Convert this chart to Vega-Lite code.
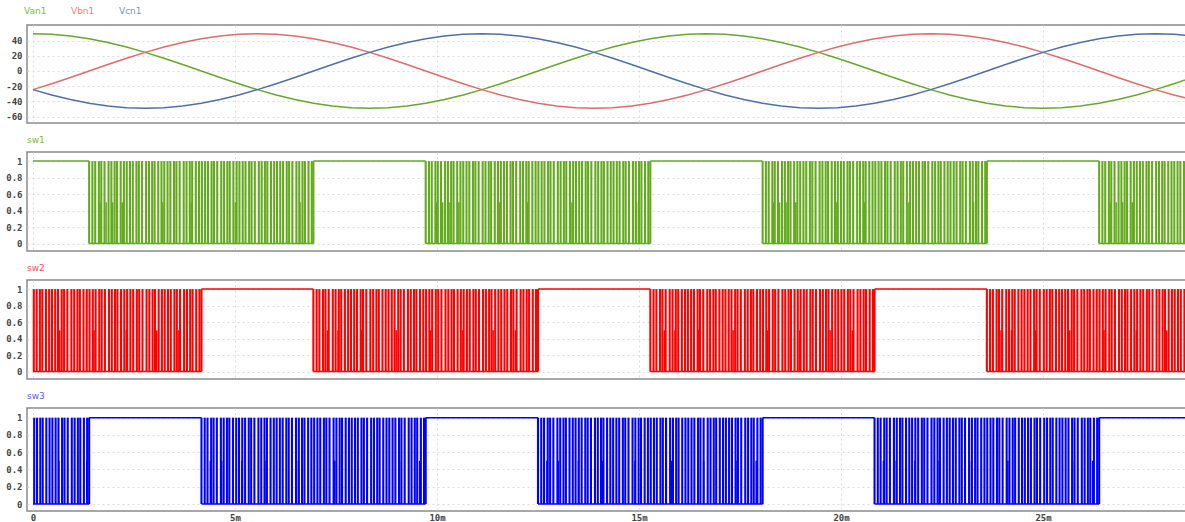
{
"$schema":"https://vega.github.io/schema/vega-lite/v6.json",
"padding":{"left":4,"top":6,"right":0,"bottom":0},
"background":"white",
"spacing":11,
"config":{
"view":{"stroke":"#8a8a8a","strokeWidth":1.5},
"axis":{"gridColor":"#dcdcdc","gridDash":[2,3],"gridWidth":1,"domain":false,"ticks":false,"labelFont":"DejaVu Sans Mono","labelFontSize":9,"labelFontWeight":"bold","labelColor":"#444","labelPadding":5,"labelOverlap":false,"labelBound":false},
"title":{"anchor":"start","frame":"group","font":"DejaVu Sans","fontSize":9,"fontWeight":"normal","offset":7}
},
"datasets":{
"sine":[
{"t":0,"Van1":49,"Vbn1":-24.5,"Vcn1":-24.5},{"t":0.463,"Van1":48.26,"Vbn1":-16.76,"Vcn1":-31.5},{"t":0.926,"Van1":46.04,"Vbn1":-8.51,"Vcn1":-37.54},{"t":1.389,"Van1":42.44,"Vbn1":0,"Vcn1":-42.44},{"t":1.852,"Van1":37.54,"Vbn1":8.51,"Vcn1":-46.04},{"t":2.315,"Van1":31.5,"Vbn1":16.76,"Vcn1":-48.26},{"t":2.778,"Van1":24.5,"Vbn1":24.5,"Vcn1":-49},{"t":3.241,"Van1":16.76,"Vbn1":31.5,"Vcn1":-48.26},{"t":3.704,"Van1":8.51,"Vbn1":37.54,"Vcn1":-46.04},{"t":4.167,"Van1":0,"Vbn1":42.44,"Vcn1":-42.44},{"t":4.63,"Van1":-8.51,"Vbn1":46.04,"Vcn1":-37.54},{"t":5.093,"Van1":-16.76,"Vbn1":48.26,"Vcn1":-31.5},{"t":5.556,"Van1":-24.5,"Vbn1":49,"Vcn1":-24.5},{"t":6.019,"Van1":-31.5,"Vbn1":48.26,"Vcn1":-16.76},{"t":6.481,"Van1":-37.54,"Vbn1":46.04,"Vcn1":-8.51},{"t":6.944,"Van1":-42.44,"Vbn1":42.44,"Vcn1":0},{"t":7.407,"Van1":-46.04,"Vbn1":37.54,"Vcn1":8.51},{"t":7.87,"Van1":-48.26,"Vbn1":31.5,"Vcn1":16.76},{"t":8.333,"Van1":-49,"Vbn1":24.5,"Vcn1":24.5},{"t":8.796,"Van1":-48.26,"Vbn1":16.76,"Vcn1":31.5},{"t":9.259,"Van1":-46.04,"Vbn1":8.51,"Vcn1":37.54},{"t":9.722,"Van1":-42.44,"Vbn1":0,"Vcn1":42.44},{"t":10.185,"Van1":-37.54,"Vbn1":-8.51,"Vcn1":46.04},{"t":10.648,"Van1":-31.5,"Vbn1":-16.76,"Vcn1":48.26},{"t":11.111,"Van1":-24.5,"Vbn1":-24.5,"Vcn1":49},{"t":11.574,"Van1":-16.76,"Vbn1":-31.5,"Vcn1":48.26},{"t":12.037,"Van1":-8.51,"Vbn1":-37.54,"Vcn1":46.04},{"t":12.5,"Van1":0,"Vbn1":-42.44,"Vcn1":42.44},{"t":12.963,"Van1":8.51,"Vbn1":-46.04,"Vcn1":37.54},{"t":13.426,"Van1":16.76,"Vbn1":-48.26,"Vcn1":31.5},{"t":13.889,"Van1":24.5,"Vbn1":-49,"Vcn1":24.5},{"t":14.352,"Van1":31.5,"Vbn1":-48.26,"Vcn1":16.76},{"t":14.815,"Van1":37.54,"Vbn1":-46.04,"Vcn1":8.51},{"t":15.278,"Van1":42.44,"Vbn1":-42.44,"Vcn1":0},{"t":15.741,"Van1":46.04,"Vbn1":-37.54,"Vcn1":-8.51},{"t":16.204,"Van1":48.26,"Vbn1":-31.5,"Vcn1":-16.76},
{"t":16.667,"Van1":49,"Vbn1":-24.5,"Vcn1":-24.5},{"t":17.13,"Van1":48.26,"Vbn1":-16.76,"Vcn1":-31.5},{"t":17.593,"Van1":46.04,"Vbn1":-8.51,"Vcn1":-37.54},{"t":18.056,"Van1":42.44,"Vbn1":0,"Vcn1":-42.44},{"t":18.519,"Van1":37.54,"Vbn1":8.51,"Vcn1":-46.04},{"t":18.981,"Van1":31.5,"Vbn1":16.76,"Vcn1":-48.26},{"t":19.444,"Van1":24.5,"Vbn1":24.5,"Vcn1":-49},{"t":19.907,"Van1":16.76,"Vbn1":31.5,"Vcn1":-48.26},{"t":20.37,"Van1":8.51,"Vbn1":37.54,"Vcn1":-46.04},{"t":20.833,"Van1":0,"Vbn1":42.44,"Vcn1":-42.44},{"t":21.296,"Van1":-8.51,"Vbn1":46.04,"Vcn1":-37.54},{"t":21.759,"Van1":-16.76,"Vbn1":48.26,"Vcn1":-31.5},{"t":22.222,"Van1":-24.5,"Vbn1":49,"Vcn1":-24.5},{"t":22.685,"Van1":-31.5,"Vbn1":48.26,"Vcn1":-16.76},{"t":23.148,"Van1":-37.54,"Vbn1":46.04,"Vcn1":-8.51},{"t":23.611,"Van1":-42.44,"Vbn1":42.44,"Vcn1":0},{"t":24.074,"Van1":-46.04,"Vbn1":37.54,"Vcn1":8.51},{"t":24.537,"Van1":-48.26,"Vbn1":31.5,"Vcn1":16.76},{"t":25,"Van1":-49,"Vbn1":24.5,"Vcn1":24.5},{"t":25.463,"Van1":-48.26,"Vbn1":16.76,"Vcn1":31.5},{"t":25.926,"Van1":-46.04,"Vbn1":8.51,"Vcn1":37.54},{"t":26.389,"Van1":-42.44,"Vbn1":0,"Vcn1":42.44},{"t":26.852,"Van1":-37.54,"Vbn1":-8.51,"Vcn1":46.04},{"t":27.315,"Van1":-31.5,"Vbn1":-16.76,"Vcn1":48.26},{"t":27.778,"Van1":-24.5,"Vbn1":-24.5,"Vcn1":49},{"t":28.241,"Van1":-16.76,"Vbn1":-31.5,"Vcn1":48.26},{"t":28.704,"Van1":-8.51,"Vbn1":-37.54,"Vcn1":46.04}
],
"seg":[
{"s":"sw1","t0":0,"t1":1.39,"v":1},{"s":"sw1","t0":1.39,"t1":6.94,"v":0},{"s":"sw1","t0":6.94,"t1":9.72,"v":1},{"s":"sw1","t0":9.72,"t1":15.28,"v":0},{"s":"sw1","t0":15.28,"t1":18.06,"v":1},{"s":"sw1","t0":18.06,"t1":23.61,"v":0},{"s":"sw1","t0":23.61,"t1":26.39,"v":1},{"s":"sw1","t0":26.39,"t1":28.56,"v":0},
{"s":"sw2","t0":0,"t1":4.17,"v":0},{"s":"sw2","t0":4.17,"t1":6.94,"v":1},{"s":"sw2","t0":6.94,"t1":12.5,"v":0},{"s":"sw2","t0":12.5,"t1":15.28,"v":1},{"s":"sw2","t0":15.28,"t1":20.83,"v":0},{"s":"sw2","t0":20.83,"t1":23.61,"v":1},{"s":"sw2","t0":23.61,"t1":28.56,"v":0},
{"s":"sw3","t0":0,"t1":1.39,"v":0},{"s":"sw3","t0":1.39,"t1":4.17,"v":1},{"s":"sw3","t0":4.17,"t1":9.72,"v":0},{"s":"sw3","t0":9.72,"t1":12.5,"v":1},{"s":"sw3","t0":12.5,"t1":18.06,"v":0},{"s":"sw3","t0":18.06,"t1":20.83,"v":1},{"s":"sw3","t0":20.83,"t1":26.39,"v":0},{"s":"sw3","t0":26.39,"t1":28.56,"v":1}
],
"p1":[
{"t":1.39},{"t":1.47},{"t":1.54},{"t":1.63},{"t":1.69},{"t":1.77},{"t":1.87},{"t":1.94},{"t":2.02},{"t":2.08},{"t":2.17},{"t":2.25},{"t":2.32},{"t":2.4},{"t":2.47},{"t":2.56},{"t":2.62},{"t":2.7},{"t":2.8},{"t":2.87},{"t":2.95},{"t":3.01},{"t":3.1},{"t":3.18},{"t":3.25},{"t":3.33},{"t":3.4},{"t":3.49},{"t":3.55},{"t":3.63},{"t":3.73},{"t":3.8},{"t":3.88},{"t":3.94},{"t":4.03},{"t":4.11},{"t":4.18},{"t":4.26},{"t":4.33},{"t":4.42},{"t":4.48},{"t":4.56},{"t":4.66},{"t":4.73},{"t":4.81},{"t":4.87},{"t":4.96},{"t":5.04},{"t":5.11},{"t":5.19},{"t":5.26},{"t":5.35},{"t":5.41},{"t":5.49},{"t":5.59},{"t":5.66},{"t":5.74},{"t":5.8},{"t":5.89},{"t":5.97},{"t":6.04},{"t":6.12},{"t":6.19},{"t":6.28},{"t":6.34},{"t":6.42},{"t":6.52},{"t":6.59},{"t":6.67},{"t":6.73},{"t":6.82},{"t":6.9},{"t":6.94},
{"t":9.72},{"t":9.8},{"t":9.87},{"t":9.96},{"t":10.02},{"t":10.1},{"t":10.2},{"t":10.27},{"t":10.35},{"t":10.41},{"t":10.5},{"t":10.58},{"t":10.65},{"t":10.73},{"t":10.8},{"t":10.89},{"t":10.95},{"t":11.03},{"t":11.13},{"t":11.2},{"t":11.28},{"t":11.34},{"t":11.43},{"t":11.51},{"t":11.58},{"t":11.66},{"t":11.73},{"t":11.82},{"t":11.88},{"t":11.96},{"t":12.06},{"t":12.13},{"t":12.21},{"t":12.27},{"t":12.36},{"t":12.44},{"t":12.51},{"t":12.59},{"t":12.66},{"t":12.75},{"t":12.81},{"t":12.89},{"t":12.99},{"t":13.06},{"t":13.14},{"t":13.2},{"t":13.29},{"t":13.37},{"t":13.44},{"t":13.52},{"t":13.59},{"t":13.68},{"t":13.74},{"t":13.82},{"t":13.92},{"t":13.99},{"t":14.07},{"t":14.13},{"t":14.22},{"t":14.3},{"t":14.37},{"t":14.45},{"t":14.52},{"t":14.61},{"t":14.67},{"t":14.75},{"t":14.85},{"t":14.92},{"t":15},{"t":15.06},{"t":15.15},{"t":15.23},{"t":15.28},
{"t":18.06},{"t":18.14},{"t":18.21},{"t":18.3},{"t":18.36},{"t":18.44},{"t":18.54},{"t":18.61},{"t":18.69},{"t":18.75},{"t":18.84},{"t":18.92},{"t":18.99},{"t":19.07},{"t":19.14},{"t":19.23},{"t":19.29},{"t":19.37},{"t":19.47},{"t":19.54},{"t":19.62},{"t":19.68},{"t":19.77},{"t":19.85},{"t":19.92},{"t":20},{"t":20.07},{"t":20.16},{"t":20.22},{"t":20.3},{"t":20.4},{"t":20.47},{"t":20.55},{"t":20.61},{"t":20.7},{"t":20.78},{"t":20.85},{"t":20.93},{"t":21},{"t":21.09},{"t":21.15},{"t":21.23},{"t":21.33},{"t":21.4},{"t":21.48},{"t":21.54},{"t":21.63},{"t":21.71},{"t":21.78},{"t":21.86},{"t":21.93},{"t":22.02},{"t":22.08},{"t":22.16},{"t":22.26},{"t":22.33},{"t":22.41},{"t":22.47},{"t":22.56},{"t":22.64},{"t":22.71},{"t":22.79},{"t":22.86},{"t":22.95},{"t":23.01},{"t":23.09},{"t":23.19},{"t":23.26},{"t":23.34},{"t":23.4},{"t":23.49},{"t":23.57},{"t":23.61},
{"t":26.39},{"t":26.47},{"t":26.54},{"t":26.63},{"t":26.69},{"t":26.77},{"t":26.87},{"t":26.94},{"t":27.02},{"t":27.08},{"t":27.17},{"t":27.25},{"t":27.32},{"t":27.4},{"t":27.47},{"t":27.56},{"t":27.62},{"t":27.7},{"t":27.8},{"t":27.87},{"t":27.95},{"t":28.01},{"t":28.1},{"t":28.18},{"t":28.25},{"t":28.33},{"t":28.4},{"t":28.49},{"t":28.55}
],
"p2":[
{"t":0.02},{"t":0.09},{"t":0.17},{"t":0.23},{"t":0.32},{"t":0.4},{"t":0.47},{"t":0.55},{"t":0.62},{"t":0.71},{"t":0.77},{"t":0.85},{"t":0.95},{"t":1.02},{"t":1.1},{"t":1.16},{"t":1.25},{"t":1.33},{"t":1.4},{"t":1.48},{"t":1.55},{"t":1.64},{"t":1.7},{"t":1.78},{"t":1.88},{"t":1.95},{"t":2.03},{"t":2.09},{"t":2.18},{"t":2.26},{"t":2.33},{"t":2.41},{"t":2.48},{"t":2.57},{"t":2.63},{"t":2.71},{"t":2.81},{"t":2.88},{"t":2.96},{"t":3.02},{"t":3.11},{"t":3.19},{"t":3.26},{"t":3.34},{"t":3.41},{"t":3.5},{"t":3.56},{"t":3.64},{"t":3.74},{"t":3.81},{"t":3.89},{"t":3.95},{"t":4.04},{"t":4.12},{"t":4.17},
{"t":6.94},{"t":7.02},{"t":7.09},{"t":7.18},{"t":7.24},{"t":7.32},{"t":7.42},{"t":7.49},{"t":7.57},{"t":7.63},{"t":7.72},{"t":7.8},{"t":7.87},{"t":7.95},{"t":8.02},{"t":8.11},{"t":8.17},{"t":8.25},{"t":8.35},{"t":8.42},{"t":8.5},{"t":8.56},{"t":8.65},{"t":8.73},{"t":8.8},{"t":8.88},{"t":8.95},{"t":9.04},{"t":9.1},{"t":9.18},{"t":9.28},{"t":9.35},{"t":9.43},{"t":9.49},{"t":9.58},{"t":9.66},{"t":9.73},{"t":9.81},{"t":9.88},{"t":9.97},{"t":10.03},{"t":10.11},{"t":10.21},{"t":10.28},{"t":10.36},{"t":10.42},{"t":10.51},{"t":10.59},{"t":10.66},{"t":10.74},{"t":10.81},{"t":10.9},{"t":10.96},{"t":11.04},{"t":11.14},{"t":11.21},{"t":11.29},{"t":11.35},{"t":11.44},{"t":11.52},{"t":11.59},{"t":11.67},{"t":11.74},{"t":11.83},{"t":11.89},{"t":11.97},{"t":12.07},{"t":12.14},{"t":12.22},{"t":12.28},{"t":12.37},{"t":12.45},{"t":12.5},
{"t":15.28},{"t":15.36},{"t":15.43},{"t":15.52},{"t":15.58},{"t":15.66},{"t":15.76},{"t":15.83},{"t":15.91},{"t":15.97},{"t":16.06},{"t":16.14},{"t":16.21},{"t":16.29},{"t":16.36},{"t":16.45},{"t":16.51},{"t":16.59},{"t":16.69},{"t":16.76},{"t":16.84},{"t":16.9},{"t":16.99},{"t":17.07},{"t":17.14},{"t":17.22},{"t":17.29},{"t":17.38},{"t":17.44},{"t":17.52},{"t":17.62},{"t":17.69},{"t":17.77},{"t":17.83},{"t":17.92},{"t":18},{"t":18.07},{"t":18.15},{"t":18.22},{"t":18.31},{"t":18.37},{"t":18.45},{"t":18.55},{"t":18.62},{"t":18.7},{"t":18.76},{"t":18.85},{"t":18.93},{"t":19},{"t":19.08},{"t":19.15},{"t":19.24},{"t":19.3},{"t":19.38},{"t":19.48},{"t":19.55},{"t":19.63},{"t":19.69},{"t":19.78},{"t":19.86},{"t":19.93},{"t":20.01},{"t":20.08},{"t":20.17},{"t":20.23},{"t":20.31},{"t":20.41},{"t":20.48},{"t":20.56},{"t":20.62},{"t":20.71},{"t":20.79},{"t":20.83},
{"t":23.61},{"t":23.69},{"t":23.76},{"t":23.85},{"t":23.91},{"t":23.99},{"t":24.09},{"t":24.16},{"t":24.24},{"t":24.3},{"t":24.39},{"t":24.47},{"t":24.54},{"t":24.62},{"t":24.69},{"t":24.78},{"t":24.84},{"t":24.92},{"t":25.02},{"t":25.09},{"t":25.17},{"t":25.23},{"t":25.32},{"t":25.4},{"t":25.47},{"t":25.55},{"t":25.62},{"t":25.71},{"t":25.77},{"t":25.85},{"t":25.95},{"t":26.02},{"t":26.1},{"t":26.16},{"t":26.25},{"t":26.33},{"t":26.4},{"t":26.48},{"t":26.55},{"t":26.64},{"t":26.7},{"t":26.78},{"t":26.88},{"t":26.95},{"t":27.03},{"t":27.09},{"t":27.18},{"t":27.26},{"t":27.33},{"t":27.41},{"t":27.48},{"t":27.57},{"t":27.63},{"t":27.71},{"t":27.81},{"t":27.88},{"t":27.96},{"t":28.02},{"t":28.11},{"t":28.19},{"t":28.26},{"t":28.34},{"t":28.41},{"t":28.5},{"t":28.56}
],
"p3":[
{"t":0.03},{"t":0.1},{"t":0.18},{"t":0.24},{"t":0.33},{"t":0.41},{"t":0.48},{"t":0.56},{"t":0.63},{"t":0.72},{"t":0.78},{"t":0.86},{"t":0.96},{"t":1.03},{"t":1.11},{"t":1.17},{"t":1.26},{"t":1.34},{"t":1.39},
{"t":4.17},{"t":4.25},{"t":4.32},{"t":4.41},{"t":4.47},{"t":4.55},{"t":4.65},{"t":4.72},{"t":4.8},{"t":4.86},{"t":4.95},{"t":5.03},{"t":5.1},{"t":5.18},{"t":5.25},{"t":5.34},{"t":5.4},{"t":5.48},{"t":5.58},{"t":5.65},{"t":5.73},{"t":5.79},{"t":5.88},{"t":5.96},{"t":6.03},{"t":6.11},{"t":6.18},{"t":6.27},{"t":6.33},{"t":6.41},{"t":6.51},{"t":6.58},{"t":6.66},{"t":6.72},{"t":6.81},{"t":6.89},{"t":6.96},{"t":7.04},{"t":7.11},{"t":7.2},{"t":7.26},{"t":7.34},{"t":7.44},{"t":7.51},{"t":7.59},{"t":7.65},{"t":7.74},{"t":7.82},{"t":7.89},{"t":7.97},{"t":8.04},{"t":8.13},{"t":8.19},{"t":8.27},{"t":8.37},{"t":8.44},{"t":8.52},{"t":8.58},{"t":8.67},{"t":8.75},{"t":8.82},{"t":8.9},{"t":8.97},{"t":9.06},{"t":9.12},{"t":9.2},{"t":9.3},{"t":9.37},{"t":9.45},{"t":9.51},{"t":9.6},{"t":9.68},{"t":9.72},
{"t":12.5},{"t":12.58},{"t":12.65},{"t":12.74},{"t":12.8},{"t":12.88},{"t":12.98},{"t":13.05},{"t":13.13},{"t":13.19},{"t":13.28},{"t":13.36},{"t":13.43},{"t":13.51},{"t":13.58},{"t":13.67},{"t":13.73},{"t":13.81},{"t":13.91},{"t":13.98},{"t":14.06},{"t":14.12},{"t":14.21},{"t":14.29},{"t":14.36},{"t":14.44},{"t":14.51},{"t":14.6},{"t":14.66},{"t":14.74},{"t":14.84},{"t":14.91},{"t":14.99},{"t":15.05},{"t":15.14},{"t":15.22},{"t":15.29},{"t":15.37},{"t":15.44},{"t":15.53},{"t":15.59},{"t":15.67},{"t":15.77},{"t":15.84},{"t":15.92},{"t":15.98},{"t":16.07},{"t":16.15},{"t":16.22},{"t":16.3},{"t":16.37},{"t":16.46},{"t":16.52},{"t":16.6},{"t":16.7},{"t":16.77},{"t":16.85},{"t":16.91},{"t":17},{"t":17.08},{"t":17.15},{"t":17.23},{"t":17.3},{"t":17.39},{"t":17.45},{"t":17.53},{"t":17.63},{"t":17.7},{"t":17.78},{"t":17.84},{"t":17.93},{"t":18.01},{"t":18.06},
{"t":20.83},{"t":20.91},{"t":20.98},{"t":21.07},{"t":21.13},{"t":21.21},{"t":21.31},{"t":21.38},{"t":21.46},{"t":21.52},{"t":21.61},{"t":21.69},{"t":21.76},{"t":21.84},{"t":21.91},{"t":22},{"t":22.06},{"t":22.14},{"t":22.24},{"t":22.31},{"t":22.39},{"t":22.45},{"t":22.54},{"t":22.62},{"t":22.69},{"t":22.77},{"t":22.84},{"t":22.93},{"t":22.99},{"t":23.07},{"t":23.17},{"t":23.24},{"t":23.32},{"t":23.38},{"t":23.47},{"t":23.55},{"t":23.62},{"t":23.7},{"t":23.77},{"t":23.86},{"t":23.92},{"t":24},{"t":24.1},{"t":24.17},{"t":24.25},{"t":24.31},{"t":24.4},{"t":24.48},{"t":24.55},{"t":24.63},{"t":24.7},{"t":24.79},{"t":24.85},{"t":24.93},{"t":25.03},{"t":25.1},{"t":25.18},{"t":25.24},{"t":25.33},{"t":25.41},{"t":25.48},{"t":25.56},{"t":25.63},{"t":25.72},{"t":25.78},{"t":25.86},{"t":25.96},{"t":26.03},{"t":26.11},{"t":26.17},{"t":26.26},{"t":26.34},{"t":26.39}
],
"h1":[{"t":1.66},{"t":1.81},{"t":1.97},{"t":2.21},{"t":3.21},{"t":3.91},{"t":5.01},{"t":6.61},{"t":9.99},{"t":10.14},{"t":10.3},{"t":10.54},{"t":11.54},{"t":12.24},{"t":13.34},{"t":14.94},{"t":18.33},{"t":18.48},{"t":18.64},{"t":18.88},{"t":19.88},{"t":20.58},{"t":21.68},{"t":23.28},{"t":26.66},{"t":26.81},{"t":26.97},{"t":27.21}],
"h2":[{"t":0.66},{"t":1.51},{"t":2.31},{"t":3.06},{"t":3.61},{"t":7.29},{"t":7.55},{"t":8.14},{"t":8.99},{"t":9.84},{"t":10.64},{"t":11.39},{"t":11.94},{"t":15.63},{"t":15.89},{"t":16.48},{"t":17.33},{"t":18.18},{"t":18.98},{"t":19.73},{"t":20.28},{"t":23.96},{"t":24.22},{"t":24.81},{"t":25.66},{"t":26.51},{"t":27.31},{"t":28.06}],
"h3":[{"t":0.64},{"t":1.33},{"t":4.39},{"t":4.67},{"t":5.17},{"t":5.77},{"t":6.57},{"t":7.47},{"t":8.27},{"t":9.07},{"t":9.57},{"t":12.72},{"t":13.0},{"t":13.5},{"t":14.1},{"t":14.9},{"t":15.8},{"t":16.6},{"t":17.4},{"t":17.9},{"t":21.05},{"t":21.33},{"t":21.83},{"t":22.43},{"t":23.23},{"t":24.13},{"t":24.93},{"t":25.73},{"t":26.23}]
},
"vconcat":[
{
"width":1160,"height":98,
"data":{"name":"sine"},
"transform":[{"fold":["Van1","Vbn1","Vcn1"],"as":["key","val"]}],
"mark":{"type":"line","strokeWidth":1.5,"clip":true},
"encoding":{
"x":{"field":"t","type":"quantitative","scale":{"domain":[-0.1485,28.564],"nice":false,"zero":false},"axis":{"title":null,"labels":false,"values":[0,5,10,15,20,25]}},
"y":{"field":"val","type":"quantitative","scale":{"domain":[-68.4,60.5],"nice":false,"zero":false},"axis":{"title":null,"values":[-60,-40,-20,0,20,40],"labelExpr":"''+datum.value","labelOverlap":false}},
"color":{"field":"key","type":"nominal","scale":{"domain":["Van1","Vbn1","Vcn1"],"range":["#66a82a","#e26a6a","#4f6fa8"]},
"legend":{"title":null,"orient":"none","legendX":-12,"legendY":-19,"direction":"horizontal","symbolSize":0,"symbolStrokeWidth":0,"symbolOpacity":0,"labelOffset":0,"columnPadding":15,"labelFont":"DejaVu Sans","labelFontSize":9,"encode":{"labels":{"update":{"fill":{"signal":"datum.value == 'Van1' ? '#7cbb3c' : datum.value == 'Vbn1' ? '#e88080' : '#7f90c8'"}}}}}}
}
},
{
"width":1160,"height":99,
"title":{"text":"sw1","color":"#7cbb3c"},
"layer":[
{"data":{"name":"seg"},"transform":[{"filter":{"field":"s","equal":"sw1"}}],"mark":{"type":"rule","strokeWidth":1.5,"color":"#64aa1e"},
"encoding":{"x":{"field":"t0","type":"quantitative","scale":{"domain":[-0.1485,28.564],"nice":false,"zero":false},"axis":{"title":null,"labels":false,"values":[0,5,10,15,20,25]}},"x2":{"field":"t1"},
"y":{"field":"v","type":"quantitative","scale":{"domain":[-0.09,1.11],"nice":false,"zero":false},"axis":{"title":null,"values":[0,0.2,0.4,0.6,0.8,1],"tickCount":6,"labelExpr":"''+datum.value","labelOverlap":false}}}},
{"data":{"name":"p1"},"mark":{"type":"rule","strokeWidth":2.1,"color":"#64aa1e"},"encoding":{"x":{"field":"t","type":"quantitative"},"y":{"datum":0,"type":"quantitative"},"y2":{"datum":1}}},
{"data":{"name":"h1"},"mark":{"type":"rule","strokeWidth":1.5,"color":"#64aa1e"},"encoding":{"x":{"field":"t","type":"quantitative"},"y":{"datum":0,"type":"quantitative"},"y2":{"datum":0.5}}}
]
},
{
"width":1160,"height":99,
"title":{"text":"sw2","color":"#ff5050"},
"layer":[
{"data":{"name":"seg"},"transform":[{"filter":{"field":"s","equal":"sw2"}}],"mark":{"type":"rule","strokeWidth":1.5,"color":"#ff0000"},
"encoding":{"x":{"field":"t0","type":"quantitative","scale":{"domain":[-0.1485,28.564],"nice":false,"zero":false},"axis":{"title":null,"labels":false,"values":[0,5,10,15,20,25]}},"x2":{"field":"t1"},
"y":{"field":"v","type":"quantitative","scale":{"domain":[-0.09,1.11],"nice":false,"zero":false},"axis":{"title":null,"values":[0,0.2,0.4,0.6,0.8,1],"tickCount":6,"labelExpr":"''+datum.value","labelOverlap":false}}}},
{"data":{"name":"p2"},"mark":{"type":"rule","strokeWidth":2.1,"color":"#ff0000"},"encoding":{"x":{"field":"t","type":"quantitative"},"y":{"datum":0,"type":"quantitative"},"y2":{"datum":1}}},
{"data":{"name":"h2"},"mark":{"type":"rule","strokeWidth":1.5,"color":"#ff0000"},"encoding":{"x":{"field":"t","type":"quantitative"},"y":{"datum":0,"type":"quantitative"},"y2":{"datum":0.5}}}
]
},
{
"width":1160,"height":103,
"title":{"text":"sw3","color":"#5a5aff"},
"layer":[
{"data":{"name":"seg"},"transform":[{"filter":{"field":"s","equal":"sw3"}}],"mark":{"type":"rule","strokeWidth":1.5,"color":"#0000ff"},
"encoding":{"x":{"field":"t0","type":"quantitative","scale":{"domain":[-0.1485,28.564],"nice":false,"zero":false},"axis":{"title":null,"values":[0,5,10,15,20,25],"labelPadding":2,"labelExpr":"datum.value == 0 ? '0' : datum.value + 'm'"}},"x2":{"field":"t1"},
"y":{"field":"v","type":"quantitative","scale":{"domain":[-0.081,1.112],"nice":false,"zero":false},"axis":{"title":null,"values":[0,0.2,0.4,0.6,0.8,1],"tickCount":6,"labelExpr":"''+datum.value","labelOverlap":false}}}},
{"data":{"name":"p3"},"mark":{"type":"rule","strokeWidth":2.1,"color":"#0000ff"},"encoding":{"x":{"field":"t","type":"quantitative"},"y":{"datum":0,"type":"quantitative"},"y2":{"datum":1}}},
{"data":{"name":"h3"},"mark":{"type":"rule","strokeWidth":1.5,"color":"#0000ff"},"encoding":{"x":{"field":"t","type":"quantitative"},"y":{"datum":0,"type":"quantitative"},"y2":{"datum":0.5}}}
]
}
]
}
